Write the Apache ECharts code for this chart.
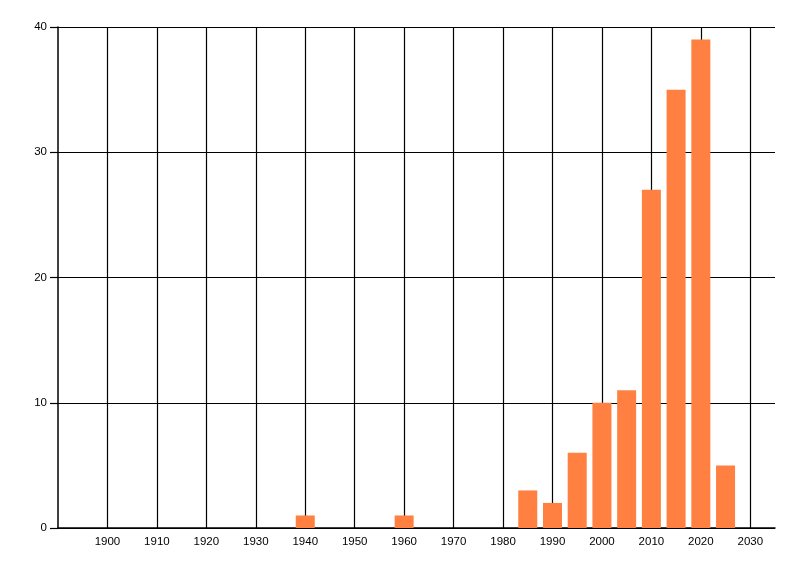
<!DOCTYPE html>
<html>
<head>
<meta charset="utf-8">
<script src="https://cdn.jsdelivr.net/npm/echarts@6/dist/echarts.min.js"></script>
<style>
    html, body { margin: 0; padding: 0; background: #fff; }
    #chart { width: 800px; height: 576px; }
</style>
</head>
<body>
<div id="chart"></div>
<script>
// years and counts
var years = [1940, 1960, 1985, 1990, 1995, 2000, 2005, 2010, 2015, 2020, 2025];
var counts = [1, 1, 3, 2, 6, 10, 11, 27, 35, 39, 5];

var yearRange = [1890, 2035];
var countRange = [0, 40];

var chart = echarts.init(document.getElementById('chart'));

var points = [];
for (var i = 0; i < years.length; i++) {
    points.push([years[i], counts[i]]);
}

var font = 'Liberation Sans';

chart.setOption({
    animation: false,
    backgroundColor: '#fff',
    grid: {
        left: 58,
        right: 25,
        top: 27,
        bottom: 48
    },
    xAxis: {
        type: 'value',
        min: yearRange[0],
        max: yearRange[1],
        interval: 10,
        axisLine: { show: true, lineStyle: { color: '#000', width: 1.5 } },
        axisTick: { show: false },
        axisLabel: {
            color: '#000',
            fontFamily: font,
            fontSize: 11.5,
            margin: 8,
            showMinLabel: false,
            showMaxLabel: false,
            formatter: function (v) { return String(v); }
        },
        splitLine: {
            show: true,
            showMinLine: false,
            showMaxLine: false,
            lineStyle: { color: '#000', width: 1.2 }
        }
    },
    yAxis: {
        type: 'value',
        min: countRange[0],
        max: countRange[1],
        interval: 10,
        axisLine: { show: true, lineStyle: { color: '#000', width: 1.5 } },
        axisTick: { show: true, length: 8, lineStyle: { color: '#000', width: 1.2 } },
        axisLabel: {
            color: '#000',
            fontFamily: font,
            fontSize: 11.5,
            margin: 11
        },
        splitLine: {
            show: true,
            lineStyle: { color: '#000', width: 1.2 }
        }
    },
    series: [{
        type: 'bar',
        data: points,
        barWidth: 19,
        itemStyle: { color: '#ff8040' }
    }]
});
</script>
</body>
</html>
